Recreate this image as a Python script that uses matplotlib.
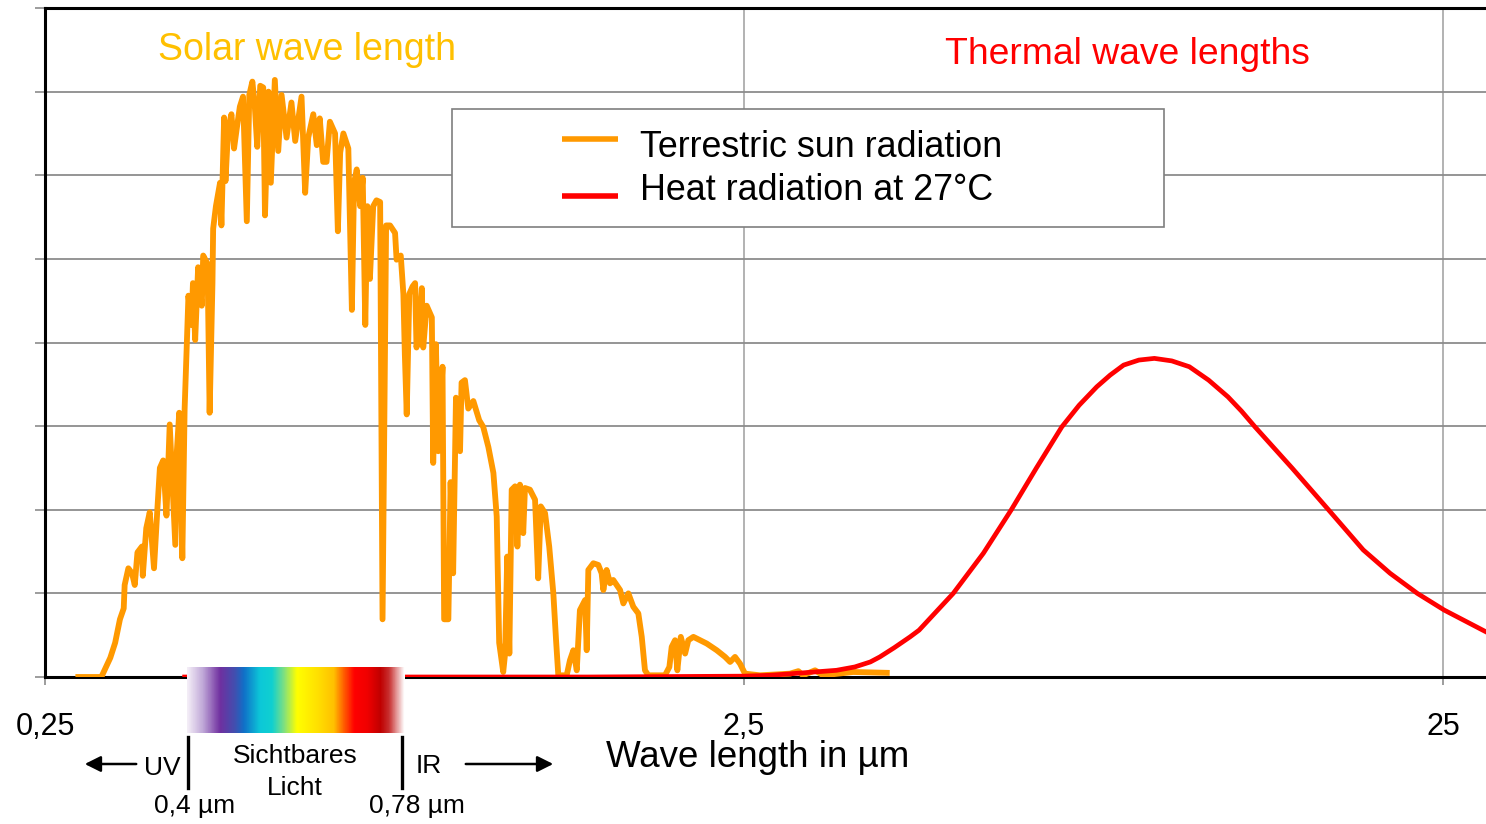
import numpy as np
import matplotlib
matplotlib.use("Agg")
import matplotlib.pyplot as plt
from matplotlib.colors import LinearSegmentedColormap
from matplotlib.patches import Rectangle
from matplotlib.lines import Line2D
from matplotlib.ticker import NullLocator

plt.rcParams['font.family'] = ['Liberation Sans', 'DejaVu Sans']

W, H = 1486, 824

# terrestrial solar spectrum (wavelength in um, relative value)
sun_wl = [0.279, 0.301, 0.310, 0.315, 0.320, 0.324, 0.325, 0.329, 0.333, 0.336,
          0.339, 0.344, 0.345, 0.349, 0.353, 0.358, 0.362, 0.365, 0.369, 0.373,
          0.377, 0.384, 0.386, 0.389, 0.393, 0.396, 0.399, 0.401, 0.405, 0.407,
          0.410, 0.414, 0.419, 0.421, 0.427, 0.430, 0.434, 0.435, 0.439, 0.445,
          0.447, 0.451, 0.453, 0.457, 0.462, 0.466, 0.470, 0.475, 0.480, 0.486,
          0.490, 0.495, 0.499, 0.503, 0.508, 0.513, 0.516, 0.522, 0.526, 0.533,
          0.539, 0.545, 0.554, 0.563, 0.570, 0.582, 0.589, 0.595, 0.605, 0.612,
          0.618, 0.625, 0.632, 0.639, 0.650, 0.656, 0.661, 0.668, 0.679, 0.687,
          0.692, 0.698, 0.706, 0.712, 0.718, 0.723, 0.729, 0.737, 0.745, 0.754,
          0.760, 0.769, 0.779, 0.792, 0.796, 0.807, 0.814, 0.818, 0.823, 0.830,
          0.839, 0.846, 0.850, 0.858, 0.865, 0.869, 0.879, 0.894, 0.898, 0.906,
          0.913, 0.926, 0.931, 0.944, 0.951, 0.959, 0.968, 0.981, 0.986, 0.997,
          1.008, 1.025, 1.045, 1.059, 1.077, 1.095, 1.107, 1.116, 1.131, 1.138,
          1.146, 1.154, 1.163, 1.176, 1.185, 1.195, 1.208, 1.215, 1.235, 1.256,
          1.269, 1.280, 1.298, 1.316, 1.334, 1.346, 1.356, 1.394, 1.409, 1.425,
          1.441, 1.456, 1.481, 1.489, 1.497, 1.522, 1.547, 1.564, 1.573, 1.590,
          1.608, 1.625, 1.662, 1.680, 1.708, 1.736, 1.765, 1.785, 1.804, 1.824,
          1.927, 1.955, 1.970, 1.992, 2.007, 2.030, 2.059, 2.081, 2.116, 2.163,
          2.211, 2.285, 2.349, 2.388, 2.427, 2.467, 2.508, 2.635, 2.909, 2.990,
          3.036, 3.159, 3.243, 3.581, 4.001]
sun_val = [0.00, 0.00, 0.23, 0.41, 0.69, 0.82, 1.10, 1.30, 1.24, 1.10,
           1.49, 1.56, 1.21, 1.78, 1.97, 1.30, 2.01, 2.50, 2.59, 1.93,
           3.02, 1.58, 2.70, 3.16, 1.42, 3.21, 4.03, 4.56, 4.21, 4.71,
           4.03, 4.90, 4.44, 5.04, 4.94, 3.16, 4.71, 5.36, 5.63, 5.91,
           5.40, 6.69, 5.93, 6.55, 6.73, 6.32, 6.55, 6.82, 6.94, 5.45,
           6.96, 7.12, 6.82, 6.34, 7.07, 7.05, 5.52, 7.00, 5.91, 7.14,
           6.29, 6.96, 6.45, 6.87, 6.41, 6.94, 5.79, 6.45, 6.73, 6.36,
           6.68, 6.16, 6.16, 6.64, 6.50, 5.33, 6.27, 6.50, 6.32, 4.39,
           5.91, 6.07, 5.63, 5.97, 4.21, 5.63, 4.76, 5.63, 5.70, 5.68,
           0.69, 5.40, 5.40, 5.31, 4.99, 5.04, 4.58, 3.85, 3.14, 4.58,
           4.67, 4.71, 3.94, 4.21, 4.65, 3.94, 4.44, 4.30, 2.56, 3.98,
           2.70, 3.71, 0.69, 0.69, 2.33, 1.24, 3.34, 2.70, 3.52, 3.55,
           3.21, 3.30, 3.07, 2.99, 2.75, 2.44, 1.92, 0.41, 0.06, 0.28,
           1.44, 0.28, 2.24, 2.28, 1.56, 2.30, 1.72, 2.26, 2.24, 2.12,
           1.18, 2.04, 1.96, 1.56, 1.00, 0.44, 0.02, 0.02, 0.20, 0.32,
           0.08, 0.80, 0.92, 0.32, 1.28, 1.36, 1.34, 1.24, 1.04, 1.28,
           1.12, 1.16, 1.04, 0.88, 1.00, 0.84, 0.76, 0.48, 0.08, 0.02,
           0.02, 0.12, 0.36, 0.44, 0.08, 0.48, 0.28, 0.44, 0.48, 0.44,
           0.40, 0.32, 0.24, 0.18, 0.24, 0.16, 0.04, 0.02, 0.04, 0.07,
           0.02, 0.08, 0.02, 0.06, 0.05]

# heat radiation at 27 C
heat_wl = [0.396, 1.50, 2.50, 2.72, 3.04, 3.39, 3.60, 3.79, 3.91, 4.10, 4.32, 4.45,
           4.98, 5.50, 6.03, 6.55, 7.12, 7.54, 7.99, 8.35, 8.73, 9.18, 9.66, 10.23,
           10.84, 11.55, 12.31, 12.87, 13.46, 15.2, 17.14, 19.22, 21.0, 22.97, 25.1, 28.8]
heat_val = [0.00, 0.00, 0.01, 0.02, 0.05, 0.08, 0.12, 0.18, 0.24, 0.35, 0.48, 0.56,
            1.00, 1.48, 2.00, 2.50, 2.99, 3.25, 3.47, 3.61, 3.73, 3.79, 3.81, 3.78,
            3.71, 3.55, 3.35, 3.18, 2.99, 2.50, 2.00, 1.52, 1.24, 1.00, 0.80, 0.54]

xticks = [0.25, 2.5, 25]
xticklabels = ['0,25', '2,5', '25']
legend_labels = ['Terrestric sun radiation', 'Heat radiation at 27°C']

# visible spectrum colour stops
spec_stops = [(0.00, '#f4eef7'), (0.07, '#c0a8d8'), (0.15, '#7030a0'), (0.22, '#4050b0'),
              (0.26, '#1070c8'), (0.335, '#0cc8d8'), (0.39, '#10d0d0'), (0.445, '#80e080'),
              (0.505, '#ffff00'), (0.60, '#ffe000'), (0.675, '#ffc000'), (0.72, '#ff6000'),
              (0.77, '#ff0000'), (0.83, '#f00000'), (0.89, '#c00000'), (0.93, '#c83030'),
              (1.00, '#ffffff')]

ORANGE = '#ff9900'
RED = '#ff0000'
GRID = '#8c8c8c'


def fx(px):
    return px / W


def fy(py):
    return 1 - py / H


fig = plt.figure(figsize=(W / 100, H / 100), dpi=100)
ax = fig.add_axes([fx(45), fy(677), 1 - fx(45), fy(8) - fy(677)])

ax.plot(sun_wl, sun_val, color=ORANGE, lw=4.2, solid_joinstyle='round', zorder=3)
ax.plot(heat_wl, heat_val, color=RED, lw=3.4, zorder=4)

ax.set_xscale('log')
ax.set_xlim(0.25, 28.8)
ax.set_ylim(0, 8)
ax.xaxis.set_minor_locator(NullLocator())
ax.set_xticks(xticks)
ax.set_xticklabels(xticklabels, va='baseline', fontsize=22)
ax.set_yticks(range(0, 9))
ax.set_yticklabels([])
ax.tick_params(axis='x', direction='out', length=6, width=1.2, color=GRID, pad=36)
ax.tick_params(axis='y', direction='out', length=7, width=1.2, color=GRID)
ax.grid(axis='y', color=GRID, lw=1.3)
ax.grid(axis='x', color='#a6a6a6', lw=1.2)
ax.set_axisbelow(True)
for s in ['left', 'top', 'bottom']:
    ax.spines[s].set_color('black')
    ax.spines[s].set_linewidth(2.2)
ax.spines['right'].set_visible(False)

# headings
fig.text(fx(307), fy(60), 'Solar wave length', color='#ffc000', fontsize=27,
         ha='center', va='baseline')
fig.text(fx(1127), fy(64), 'Thermal wave lengths', color=RED, fontsize=26.8,
         ha='center', va='baseline')

# legend box drawn by hand
fig.add_artist(Rectangle((fx(452), fy(227)), fx(1164) - fx(452), fy(109) - fy(227),
                         transform=fig.transFigure, facecolor='white',
                         edgecolor='#7f7f7f', lw=1.2, zorder=5))
for yy, col, lab, base in [(139, ORANGE, legend_labels[0], 157),
                           (196, RED, legend_labels[1], 200)]:
    fig.add_artist(Line2D([fx(562), fx(618)], [fy(yy), fy(yy)], color=col, lw=4.0,
                          solid_capstyle='butt', transform=fig.transFigure, zorder=6))
    fig.text(fx(640), fy(base), lab, fontsize=25.8, ha='left', va='baseline', zorder=6)

fig.text(fx(758), fy(767), 'Wave length in µm', fontsize=26.5, ha='center', va='baseline')

# visible light bar
cmap = LinearSegmentedColormap.from_list('vis', spec_stops)
bax = fig.add_axes([fx(187), fy(733), fx(405) - fx(187), fy(667) - fy(733)], zorder=10)
bax.imshow(np.linspace(0, 1, 400).reshape(1, -1), cmap=cmap, aspect='auto')
bax.axis('off')

fig.text(fx(162), fy(775), 'UV', fontsize=19, ha='center', va='baseline')
fig.text(fx(428.5), fy(773), 'IR', fontsize=19, ha='center', va='baseline')
fig.text(fx(295), fy(763), 'Sichtbares', fontsize=19, ha='center', va='baseline')
fig.text(fx(295), fy(795), 'Licht', fontsize=19, ha='center', va='baseline')
fig.text(fx(194.5), fy(813), '0,4 µm', fontsize=19, ha='center', va='baseline')
fig.text(fx(417), fy(813), '0,78 µm', fontsize=19, ha='center', va='baseline')

for xb in [188, 402]:
    fig.add_artist(Line2D([fx(xb), fx(xb)], [fy(737), fy(788)], color='black', lw=2.4,
                          transform=fig.transFigure))

ax.annotate('', xy=(fx(82), fy(764)), xytext=(fx(139), fy(764)), xycoords='figure fraction',
            arrowprops=dict(arrowstyle='-|>', color='black', lw=1.8, mutation_scale=24))
ax.annotate('', xy=(fx(556), fy(764)), xytext=(fx(463), fy(764)), xycoords='figure fraction',
            arrowprops=dict(arrowstyle='-|>', color='black', lw=1.8, mutation_scale=24))

fig.savefig('out.png', dpi=100)
